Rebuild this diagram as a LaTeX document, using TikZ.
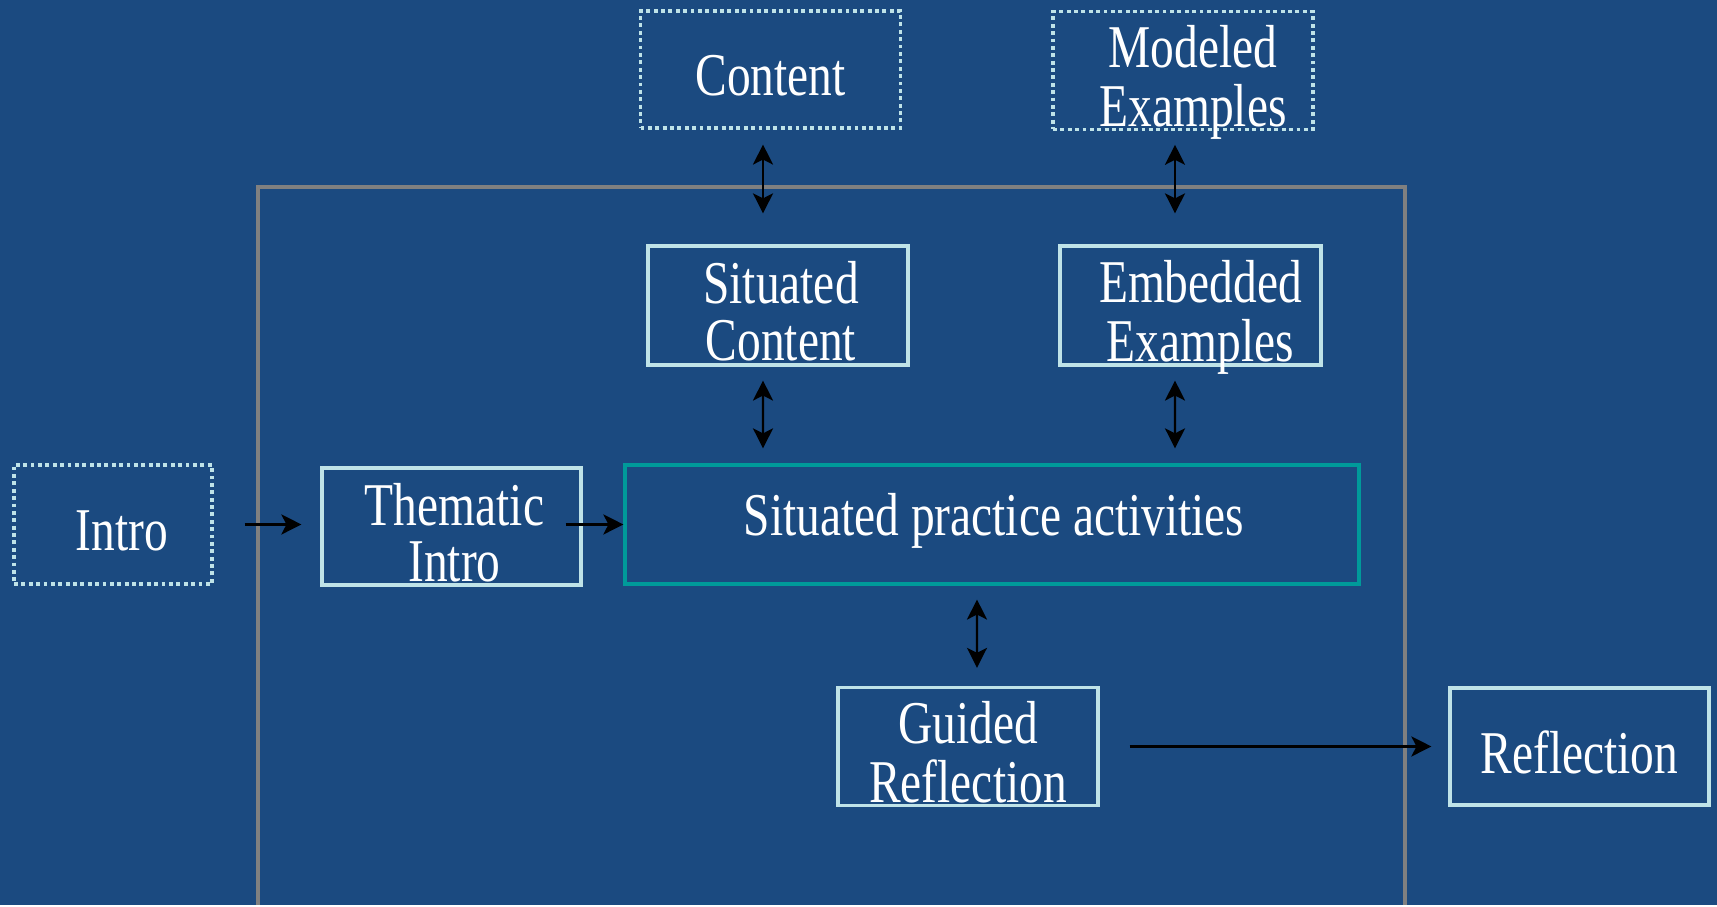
\documentclass[tikz,border=0pt]{standalone}
\usepackage{fontspec}
\setmainfont{Liberation Serif}
\usepackage{graphicx}
\usetikzlibrary{arrows.meta}
\definecolor{bgblue}{HTML}{1B4A80}
\definecolor{boxline}{HTML}{BFE3E8}
\definecolor{tealline}{HTML}{009A9A}
\definecolor{frameline}{HTML}{808080}
\NewDocumentCommand{\tallt}{O{0cm} O{-0.14cm} m}{\raisebox{#2}[\height][\depth]{\hspace*{#1}\scalebox{1}[1.28]{\begin{tabular}{@{}c@{}}#3\end{tabular}}\hspace*{-#1}}}

\begin{document}
\begin{tikzpicture}[stagebox/.style={rectangle, draw=boxline, line width=0.9pt, minimum width=2.6cm, minimum height=1.17cm, inner sep=0pt, text=white, font=\fontsize{13.5}{12.3}\selectfont},
  dotbox/.style={stagebox, dash pattern=on 1.1pt off 1pt},
  biarrow/.style={{Stealth[length=2mm,width=2mm,inset=0.5mm]}-{Stealth[length=2mm,width=2mm,inset=0.5mm]}, line width=0.65pt, black},
  onearrow/.style={-{Stealth[length=2mm,width=2mm,inset=0.5mm]}, line width=0.7pt, black}]
\fill [bgblue] (0, 0) rectangle (17.17, 9.05);
\draw [frameline, line width=0.9pt] (2.58, 0) -- (2.58, 7.18) -- (14.05, 7.18) -- (14.05, 0);

\node (cont) at (7.705, 8.355) [dotbox] {\tallt{Content}};
\node (model) at (11.83, 8.345) [dotbox] {\tallt[0.1cm]{Modeled\\Examples}};
\node (sitc) at (7.78, 5.995) [stagebox, minimum height=1.19cm] {\tallt[0.03cm]{Situated\\Content}};
\node (embex) at (11.905, 5.995) [stagebox, minimum width=2.61cm, minimum height=1.19cm] {\tallt[0.1cm]{Embedded\\Examples}};
\node (intro) at (1.13, 3.805) [dotbox, minimum width=1.98cm, minimum height=1.19cm] {\tallt[0.09cm]{Intro}};
\node (thema) at (4.515, 3.785) [stagebox, minimum width=2.59cm] {\tallt[0.03cm]{Thematic\\Intro}};
\node (pract) at (9.92, 3.805) [stagebox, draw=tealline, minimum width=7.34cm, minimum height=1.19cm] {\tallt[0.02cm][0.02cm]{Situated practice activities}};
\node (guided) at (9.68, 1.585) [stagebox] {\tallt{Guided\\Reflection}};
\node (refl) at (15.795, 1.585) [stagebox, minimum width=2.59cm] {\tallt{Reflection}};

\draw [biarrow, shorten <=0.15cm, shorten >=0.31cm] ([xshift=-0.075cm]cont.south) -- ([xshift=-0.15cm]sitc.north);
\draw [biarrow, shorten <=0.14cm, shorten >=0.31cm] ([xshift=-0.08cm]model.south) -- ([xshift=-0.155cm]embex.north);
\draw [biarrow, shorten <=0.14cm, shorten >=0.15cm] ([xshift=-0.15cm]sitc.south) -- ([xshift=-2.29cm]pract.north);
\draw [biarrow, shorten <=0.14cm, shorten >=0.15cm] ([xshift=-0.155cm]embex.south) -- ([xshift=1.83cm]pract.north);
\draw [biarrow, shorten <=0.14cm, shorten >=0.18cm] ([xshift=-0.15cm]pract.south) -- ([xshift=0.09cm]guided.north);
\draw [onearrow, shorten <=0.31cm, shorten >=0.19cm] (intro.east) -- (intro.east -| thema.west);
\draw [onearrow] ([xshift=-0.17cm]thema.east |- intro.east) -- (intro.east -| pract.west);
\draw [onearrow, shorten <=0.3cm, shorten >=0.17cm] (guided.east) -- (refl.west);
\end{tikzpicture}
\end{document}
